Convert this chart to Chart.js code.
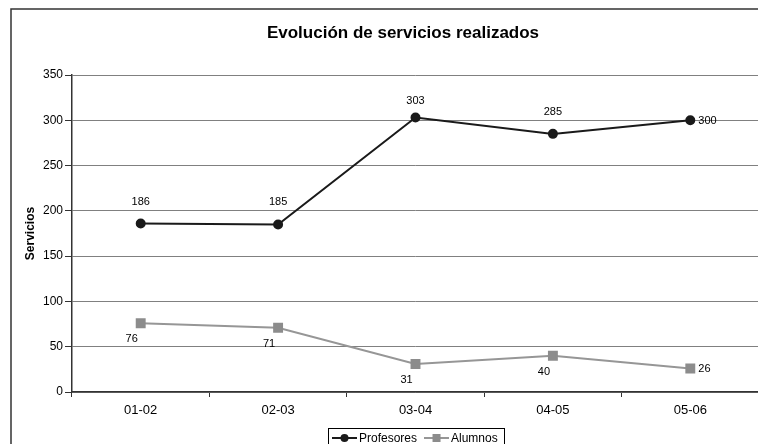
<!DOCTYPE html>
<html>
<head>
<meta charset="utf-8">
<script src="https://cdn.jsdelivr.net/npm/chart.js@4"></script>
<style>
  html, body { margin: 0; padding: 0; background: #fff; overflow: hidden; width: 758px; height: 444px; }
  #wrap { position: absolute; left: 0; top: 0; width: 800px; height: 444px; }
</style>
</head>
<body>
<div id="wrap"><canvas id="chart" width="800" height="444"></canvas></div>
<script>
// Chart data
const periods = ["01-02", "02-03", "03-04", "04-05", "05-06"];
const profesores = [186, 185, 303, 285, 300];
const alumnos = [76, 71, 31, 40, 26];
const yTicks = [0, 50, 100, 150, 200, 250, 300, 350];

const FONT = "Arial, 'Liberation Sans', sans-serif";

// Frame, title and legend drawn round the plot
const decorPlugin = {
  id: "decor",
  afterDraw(chart) {
    const ctx = chart.ctx;
    ctx.save();

    // outer frame
    ctx.strokeStyle = "#333";
    ctx.lineWidth = 1.5;
    ctx.strokeRect(11, 9, 900, 600);

    // title
    ctx.fillStyle = "#000";
    ctx.font = "bold 17px " + FONT;
    ctx.textAlign = "center";
    ctx.textBaseline = "middle";
    ctx.fillText("Evolución de servicios realizados", 403, 33);

    // legend
    const boxX = 328, boxY = 428, boxW = 176, boxH = 20;
    ctx.fillStyle = "#fff";
    ctx.fillRect(boxX, boxY, boxW, boxH);
    ctx.strokeStyle = "#000";
    ctx.lineWidth = 1;
    ctx.strokeRect(boxX + 0.5, boxY + 0.5, boxW, boxH);

    ctx.font = "12px " + FONT;
    ctx.textAlign = "left";
    let x = boxX + 4;
    const cy = 438;
    chart.data.datasets.forEach(ds => {
      ctx.strokeStyle = ds.borderColor;
      ctx.lineWidth = 2;
      ctx.beginPath();
      ctx.moveTo(x, cy);
      ctx.lineTo(x + 25, cy);
      ctx.stroke();
      ctx.fillStyle = ds.pointBackgroundColor;
      if (ds.pointStyle === "rect") {
        ctx.fillRect(x + 8.5, cy - 4, 8, 8);
      } else {
        ctx.beginPath();
        ctx.arc(x + 12.5, cy, 4, 0, Math.PI * 2);
        ctx.fill();
      }
      ctx.fillStyle = "#000";
      ctx.fillText(ds.label, x + 27, cy + 1);
      x += 27 + ctx.measureText(ds.label).width + 7;
    });

    ctx.restore();
  }
};

// Value labels next to each point
const valueLabels = {
  id: "valueLabels",
  afterDatasetsDraw(chart) {
    const ctx = chart.ctx;
    ctx.save();
    ctx.font = "11px " + FONT;
    ctx.fillStyle = "#000";
    ctx.textBaseline = "middle";
    chart.data.datasets.forEach((ds, i) => {
      const meta = chart.getDatasetMeta(i);
      const last = meta.data.length - 1;
      meta.data.forEach((pt, j) => {
        const v = ds.data[j];
        if (j === last) {
          ctx.textAlign = "left";
          ctx.fillText(v, pt.x + 8, pt.y + 1);
        } else if (i === 0) {
          ctx.textAlign = "center";
          ctx.fillText(v, pt.x, Math.max(pt.y - 22, 101));
        } else {
          ctx.textAlign = "center";
          ctx.fillText(v, pt.x - 9, pt.y + 16);
        }
      });
    });
    ctx.restore();
  }
};

new Chart(document.getElementById("chart"), {
  type: "line",
  data: {
    labels: periods,
    datasets: [
      {
        label: "Profesores",
        data: profesores,
        borderColor: "#1a1a1a",
        backgroundColor: "#1a1a1a",
        pointBackgroundColor: "#1a1a1a",
        pointBorderColor: "#1a1a1a",
        pointStyle: "circle",
        pointRadius: 4,
        borderWidth: 2,
        tension: 0
      },
      {
        label: "Alumnos",
        data: alumnos,
        borderColor: "#969696",
        backgroundColor: "#969696",
        pointBackgroundColor: "#8c8c8c",
        pointBorderColor: "#8c8c8c",
        pointStyle: "rect",
        pointRadius: 5.6,
        borderWidth: 2,
        tension: 0
      }
    ]
  },
  options: {
    responsive: false,
    animation: false,
    layout: { padding: { left: 0, right: 41, top: 75, bottom: 22 } },
    plugins: {
      legend: { display: false },
      title: { display: false },
      tooltip: { enabled: false }
    },
    scales: {
      x: {
        offset: true,
        grid: { offset: true, drawOnChartArea: false, drawTicks: true, tickLength: 5, color: "#333", lineWidth: 1 },
        border: { color: "#333", width: 1.5 },
        ticks: { color: "#000", font: { family: FONT, size: 13 }, padding: 6 },
        afterFit: s => { s.height = 30; s.paddingLeft = 0; s.paddingRight = 0; }
      },
      y: {
        min: 0,
        max: 350,
        afterBuildTicks: s => { s.ticks = yTicks.map(v => ({ value: v })); },
        grid: { color: "#808080", lineWidth: 1, tickLength: 7, tickColor: "#333" },
        border: { color: "#333", width: 1.5 },
        ticks: { color: "#000", font: { family: FONT, size: 12 }, padding: 2 },
        title: {
          display: true,
          text: "Servicios",
          color: "#000",
          font: { family: FONT, size: 12, weight: "bold" },
          padding: { top: 23, bottom: 0 }
        },
        afterFit: s => { s.width = 72; s.paddingTop = 0; s.paddingBottom = 0; }
      }
    }
  },
  plugins: [decorPlugin, valueLabels]
});
</script>
</body>
</html>
